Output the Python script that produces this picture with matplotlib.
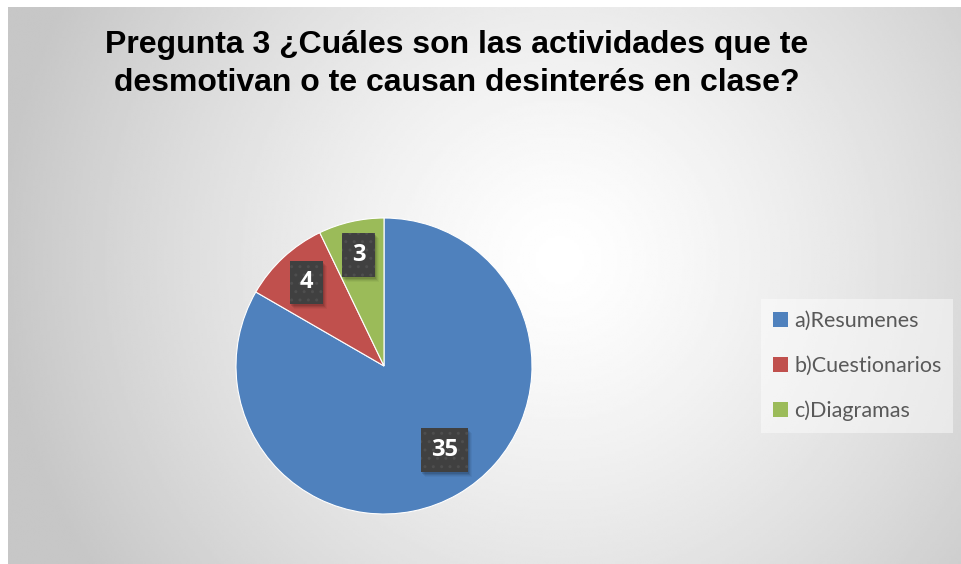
import numpy as np
import matplotlib.pyplot as plt
from matplotlib.patches import Patch, Rectangle

# data
categories = ['a)Resumenes', 'b)Cuestionarios', 'c)Diagramas']
values = [35, 4, 3]
colors = ['#4F81BD', '#C0504D', '#9BBB59']
title = 'Pregunta 3 ¿Cuáles son las actividades que te\ndesmotivan o te causan desinterés en clase?'

W, H = 962, 564
fig = plt.figure(figsize=(W / 100, H / 100), dpi=100)
fig.patch.set_facecolor('white')
ax = fig.add_axes([0, 0, 1, 1])

# pie
cx, cy, r = 384, H - 366, 148
wedges, _ = ax.pie(values, colors=colors, startangle=90, counterclock=False,
                   center=(cx, cy), radius=r, frame=True,
                   wedgeprops=dict(linewidth=0.8, edgecolor='white'))
ax.set_xlim(0, W)
ax.set_ylim(0, H)
ax.axis('off')

# radial gradient background of the chart area
x0, x1, y0, y1 = 8, W, 0, H - 7
xx, yy = np.meshgrid(np.linspace(x0, x1, 400), np.linspace(y1, y0, 240))
d = np.hypot(xx - 560, yy - (H - 260)) / 560
shade = 1 - 0.22 * np.clip(d, 0, 1) ** 1.3
ax.imshow(shade, extent=[x0, x1, y0, y1], cmap='gray', vmin=0, vmax=1,
          aspect='auto', zorder=0, interpolation='bilinear')
ax.set_xlim(0, W)
ax.set_ylim(0, H)

# data labels in dark boxes
dist = [0.70, 0.77, 0.77]
shift = [6, 0, 0]
labels = []
for w, v, f, s in zip(wedges, values, dist, shift):
    ang = np.deg2rad((w.theta1 + w.theta2) / 2 + s)
    lx = cx + f * r * np.cos(ang)
    ly = cy + f * r * np.sin(ang)
    t = ax.text(lx, ly, str(v), fontsize=17, fontweight='bold', family='Open Sans',
                color='white', ha='center', va='center', zorder=5,
                bbox=dict(boxstyle='square,pad=0.42', fc='#404040', ec='#4e4e4e',
                          lw=0, hatch='..'))
    labels.append(t)

# soft shadows behind the label boxes
fig.canvas.draw()
for t in labels:
    bb = t.get_bbox_patch().get_window_extent()
    for k, a in zip([1, 2, 3, 4], [0.10, 0.08, 0.06, 0.04]):
        ax.add_patch(Rectangle((bb.x0 + k, bb.y0 - k - 1), bb.width, bb.height,
                               fc='black', ec='none', alpha=a, zorder=4))

fig.text(457 / W, 1 - 64 / H, title, ha='center', va='center', fontsize=23,
         fontweight='bold', family='Liberation Sans', linespacing=1.38)

handles = [Patch(facecolor=c, edgecolor='none') for c in colors]
leg = fig.legend(handles, categories, loc='center', bbox_to_anchor=(857 / W, 1 - 366 / H),
                 frameon=True, fancybox=False, labelspacing=1.15,
                 handlelength=0.7, handleheight=0.7, handletextpad=0.3,
                 borderpad=0.55, borderaxespad=0, prop={'family': 'Lato', 'size': 15.5})
leg.get_frame().set_facecolor('white')
leg.get_frame().set_alpha(0.45)
leg.get_frame().set_edgecolor('none')
for t in leg.get_texts():
    t.set_color('#595959')

fig.savefig('out.png', dpi=100)
